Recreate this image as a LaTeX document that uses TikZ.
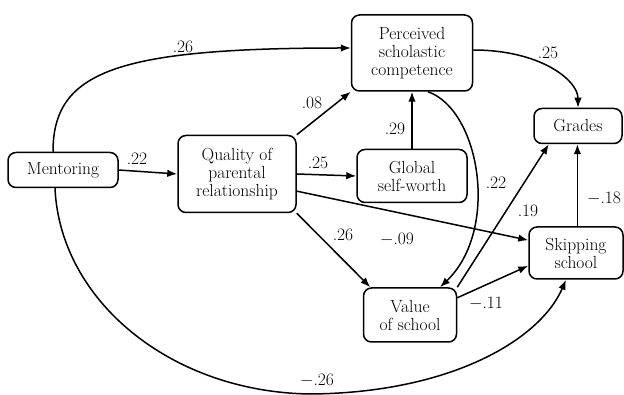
\documentclass[tikz,border=0pt]{standalone}
\usepackage{tikz}
\usetikzlibrary{arrows.meta}

\begin{document}
\begin{tikzpicture}
[x=1pt,y=-1pt,
  arrowDecorate/.style={-{Latex[length=10pt,width=7.5pt]},line width=1.5pt},%
  boxDecorate/.style={shape=rectangle,rounded corners=8pt,draw,line width=1.5pt,
    align=center,inner sep=1pt,font=\fontsize{17.5}{18}\selectfont},
  labelDecorate/.style={inner sep=1pt,font=\fontsize{17.5}{18}\selectfont}]
\useasboundingbox (0,0) rectangle (624,395);
%% boxes
\foreach \nodename/\x/\y/\w/\h/\txt in {
  M/63/170/110/35/{Mentoring},
  Q/237/174/118/77/{Quality of\\parental\\relationship},
  P/412/53/121/76/{Perceived\\scholastic\\competence},
  Gr/578/126/88/35/{Grades},
  G/412/176/110/53/{Global\\self-worth},
  V/410/315/93/54/{Value\\of school},
  S/576/253/94/52/{Skipping\\school}}
{
  \node (\nodename) at (\x,\y) [boxDecorate,minimum width=\w pt,minimum height=\h pt] {\txt};
}
%% straight paths
\foreach \startnode/\endnode in {
  M.east/Q.west, Q.north east/P.south west, Q.east/G.west, G.north/P.south,
  Q.-16/S.165, Q.south east/V.145, V.north east/Gr.-148, V.20/S.195}
{
  \draw[arrowDecorate] (\startnode) -- (\endnode);
}
\draw[arrowDecorate] (S.87) -- (S.87 |- Gr.south);
%% curved paths
\draw[arrowDecorate] ([xshift=-10pt]M.north) .. controls (53,72) and (115,48) .. ([yshift=5pt]P.west);
\draw[arrowDecorate] ([yshift=3pt]P.east) .. controls (540,50) and (578,80) .. (Gr.north);
\draw[arrowDecorate] ([xshift=16pt]P.south) .. controls (480,110) and (500,230) .. ([xshift=30pt]V.north);
\draw[arrowDecorate] ([xshift=-8pt]M.south) .. controls (60,300) and (170,392) .. (310,394)
  .. controls (450,393) and (540,340) .. ([xshift=-10pt]S.south);
%% path labels
\foreach \labelname/\x/\y/\txt in {
  lMQ/137/159/{.22}, lMP/183/47/{.26}, lQP/312/103/{.08}, lQG/318/163/{.25},
  lGP/395/129/{.29}, lPGr/548/53/{.25}, lPV/496/183/{.22}, lVGr/528/211/{.19},
  lSGr/604/198/{$-$.18}, lQS/397/239/{$-$.09}, lQV/343/235/{.26},
  lVS/486/303/{$-$.11}, lMS/317/380/{$-$.26}}
{
  \node (\labelname) at (\x,\y) [labelDecorate] {\txt};
}
\end{tikzpicture}
\end{document}
